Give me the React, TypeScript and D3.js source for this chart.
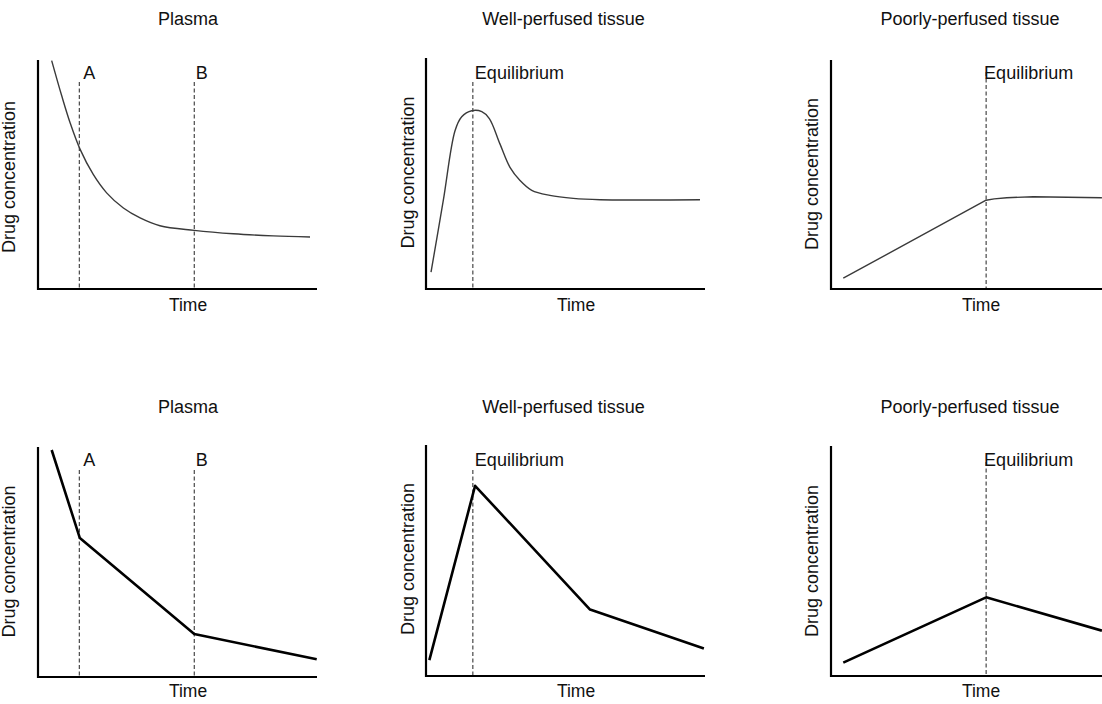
import React from "react";
import * as d3 from "d3";

// ---------- DATA (time and concentration in arbitrary 0–100 units) ----------
const panelTitles = ["Plasma", "Well-perfused tissue", "Poorly-perfused tissue"];
const xAxisLabel = "Time";
const yAxisLabel = "Drug concentration";

// Top row: smooth curves
const plasmaCurveT = [4.9, 8.5, 11.5, 15.1, 19.8, 24.6, 30.6, 36.6, 43.7, 56.0, 70.0, 84.3, 97.5];
const plasmaCurveC = [99.3, 84.0, 72.3, 60.7, 49.8, 41.8, 35.2, 30.9, 27.5, 25.5, 24.0, 23.1, 22.6];

const wellCurveT = [1.8, 6.2, 10.4, 12.8, 16.4, 20.0, 22.7, 26.5, 30.1, 33.7, 37.9, 44.4, 52.8, 62.4, 80.3, 98.2];
const wellCurveC = [7.3, 38.5, 68.8, 74.9, 77.5, 77.1, 74.1, 63.1, 52.9, 47.2, 42.9, 40.7, 39.4, 38.8, 38.7, 38.8];

const poorCurveT = [4.4, 55.6, 58.5, 63.0, 72.5, 97.1];
const poorCurveC = [4.7, 38.6, 39.2, 39.7, 40.1, 39.7];

// Bottom row: piecewise-linear lines
const plasmaLineT = [4.9, 15.0, 56.0, 99.9];
const plasmaLineC = [98.7, 60.4, 18.7, 7.7];

const wellLineT = [1.2, 17.6, 58.8, 99.6];
const wellLineC = [6.9, 82.7, 28.9, 12.0];

const poorLineT = [4.4, 55.6, 97.1];
const poorLineC = [5.8, 34.2, 19.7];

// Reference markers (dashed verticals)
const plasmaMarkerLabels = ["A", "B"];
const plasmaMarkerT = [14.8, 56.0];
const wellMarkerLabels = ["Equilibrium"];
const wellMarkerT = [16.8];
const poorMarkerLabels = ["Equilibrium"];
const poorMarkerT = [55.6];

// ---------- LAYOUT ----------
const W = 1102;
const H = 704;
const FONT = "'Liberation Sans', Arial, Helvetica, sans-serif";

type Col = {
  left: number; right: number; axisRight: number; titleX: number; timeX: number; yLabelX: number;
  markerDx: number[];
};
const cols: Col[] = [
  { left: 38, right: 317, axisRight: 317, titleX: 188, timeX: 188, yLabelX: 15, markerDx: [4, 1.5] },
  { left: 426, right: 705, axisRight: 705, titleX: 563.5, timeX: 576, yLabelX: 414, markerDx: [2] },
  { left: 831, right: 1110, axisRight: 1104, titleX: 970, timeX: 981, yLabelX: 818, markerDx: [-2] },
];

type Row = {
  axisY: number[]; top: number[]; dashTop: number[]; markerY: number; titleY: number; timeY: number;
  yLabelY: number[]; curves: any[]; strokeW: number; stroke: string;
};
const rows: Row[] = [
  { axisY: [289, 289, 289], top: [60, 58, 60], dashTop: [82, 82, 72], markerY: 79, titleY: 25, timeY: 311,
    yLabelY: [177, 172.5, 174],
    curves: [d3.curveCatmullRom.alpha(0.5), d3.curveCatmullRom.alpha(0.5), d3.curveLinear],
    strokeW: 1.4, stroke: "#3a3a3a" },
  { axisY: [677, 676, 676], top: [447, 445, 446], dashTop: [470, 470, 462], markerY: 466, titleY: 413, timeY: 697,
    yLabelY: [561.5, 559, 561], curves: [d3.curveLinear, d3.curveLinear, d3.curveLinear],
    strokeW: 2.6, stroke: "#000" },
];

const PLOT_H = 230;

const seriesByRow = [
  [
    { t: plasmaCurveT, c: plasmaCurveC },
    { t: wellCurveT, c: wellCurveC },
    { t: poorCurveT, c: poorCurveC },
  ],
  [
    { t: plasmaLineT, c: plasmaLineC },
    { t: wellLineT, c: wellLineC },
    { t: poorLineT, c: poorLineC },
  ],
];

const markers = [
  { labels: plasmaMarkerLabels, t: plasmaMarkerT },
  { labels: wellMarkerLabels, t: wellMarkerT },
  { labels: poorMarkerLabels, t: poorMarkerT },
];

function Panel({ row, col, ri, ci }: { row: Row; col: Col; ri: number; ci: number }) {
  const axisY = row.axisY[ci];
  const x = d3.scaleLinear().domain([0, 100]).range([col.left, col.right]);
  const y = d3.scaleLinear().domain([0, 100]).range([axisY, axisY - PLOT_H]);
  const s = seriesByRow[ri][ci];
  const pts: [number, number][] = s.t.map((t, i) => [t, s.c[i]]);
  const line = d3
    .line<[number, number]>()
    .x((d) => x(d[0]))
    .y((d) => y(d[1]))
    .curve(row.curves[ci]);
  const m = markers[ci];
  return (
    <g>
      <text x={col.titleX} y={row.titleY} textAnchor="middle" fontSize={18} fill="#111">
        {panelTitles[ci]}
      </text>
      {m.t.map((t, i) => (
        <g key={i}>
          <line
            x1={x(t)} x2={x(t)} y1={row.dashTop[ci]} y2={axisY}
            stroke="#222" strokeWidth={1} strokeDasharray="4,2.5"
          />
          <text x={x(t) + col.markerDx[i]} y={row.markerY} fontSize={18} fill="#111">
            {m.labels[i]}
          </text>
        </g>
      ))}
      <path d={line(pts) || ""} fill="none" stroke={row.stroke} strokeWidth={row.strokeW}
        strokeLinejoin="round" strokeLinecap="butt" />
      <line x1={col.left} x2={col.left} y1={row.top[ci]} y2={axisY + 1} stroke="#000" strokeWidth={2.2} />
      <line x1={col.left - 1} x2={col.axisRight} y1={axisY} y2={axisY} stroke="#000" strokeWidth={2.2} />
      <text x={col.timeX} y={row.timeY} textAnchor="middle" fontSize={17.5} fill="#111">
        {xAxisLabel}
      </text>
      <text
        transform={`translate(${col.yLabelX},${row.yLabelY[ci]}) rotate(-90)`}
        textAnchor="middle" fontSize={18} fill="#111"
      >
        {yAxisLabel}
      </text>
    </g>
  );
}

export default function App() {
  return (
    <svg
      width={W}
      height={H}
      viewBox={`0 0 ${W} ${H}`}
      style={{ position: "absolute", left: 0, top: 0, background: "#fff", fontFamily: FONT }}
    >
      <rect x={0} y={0} width={W} height={H} fill="#fff" />
      {rows.map((row, ri) =>
        cols.map((col, ci) => <Panel key={`${ri}-${ci}`} row={row} col={col} ri={ri} ci={ci} />)
      )}
    </svg>
  );
}
